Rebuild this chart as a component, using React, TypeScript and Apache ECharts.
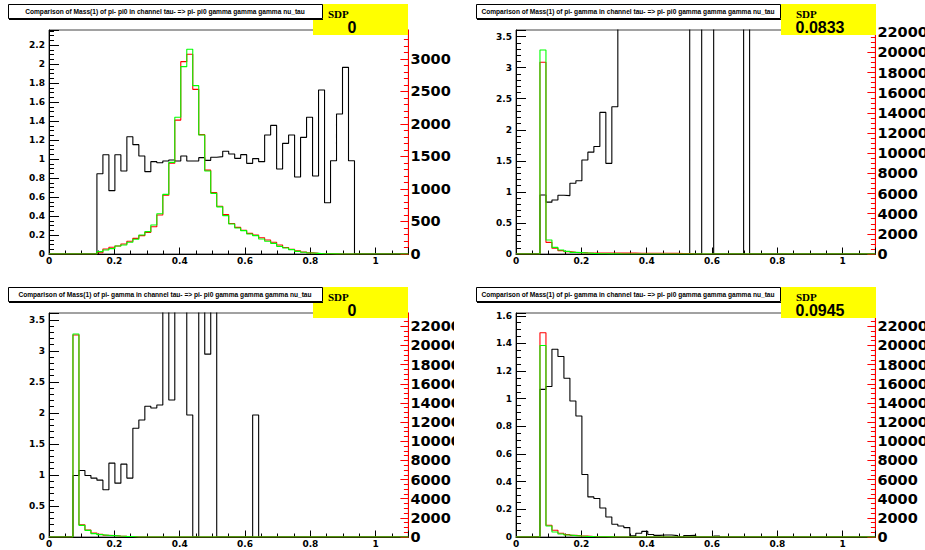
import React, { useEffect, useRef } from "react";
import * as echarts from "echarts";

// ---- binning (shared by all four pads) ----
const NBINS = 60;
const XMIN = 0;
const XMAX = 1.1;

// ---- titles / SDP values ----
const titlePiPi0 = "Comparison of Mass(1) of pi- pi0 in channel tau- => pi- pi0 gamma gamma gamma nu_tau";
const titlePiGamma = "Comparison of Mass(1) of pi- gamma in channel tau- => pi- pi0 gamma gamma gamma nu_tau";
const sdpValues = ["0", "0.0833", "0", "0.0945"];

// ---- pad 1 (top-left) ----
const p1BlackStart = 8;
const p1Black = [0.845, 1.045, 0.667, 1.045, 0.874, 1.235, 1.151, 1.032, 0.867, 0.972, 0.961, 0.979, 0.989, 0.979, 1.032, 0.979, 0.979, 1.014, 0.986, 1.018, 1.025, 1.081, 1.053, 1.007, 1.046, 0.954, 1.004, 0.972, 1.253, 1.354, 0.895, 1.165, 1.253, 0.81, 1.228, 1.439, 0.821, 1.726, 0.54, 0.982, 1.474, 1.965, 0.982];
const p1RedStart = 8;
const p1Red = [20, 77, 103, 123, 154, 195, 241, 282, 333, 420, 600, 903, 1395, 2060, 2959, 3072, 2533, 1836, 1290, 945, 735, 605, 470, 410, 365, 318, 290, 251, 215, 180, 138, 100, 72, 50, 30, 18, 10, 6, 3, 2];
const p1GreenStart = 8;
const p1Green = [36, 62, 82, 123, 138, 180, 226, 292, 344, 446, 620, 918, 1410, 2103, 2882, 3149, 2590, 1830, 1277, 933, 725, 590, 462, 400, 359, 308, 282, 231, 195, 164, 118, 92, 67, 41, 26, 15, 10, 5, 3, 2];
const p1LeftMax = 2.358;
const p1RightMax = 3446;

// ---- pad 2 (top-right) ----
const p2BlackStart = 4;
const p2Black = [0.95, 0.835, 0.87, 0.945, 0.94, 1.14, 1.18, 1.514, 1.64, 1.73, 2.28, 1.46, 2.37, 4.1, 4.6, 5.2, 4.4, 6.0, 4.9, 5.5, 7.1, 4.3, 6.6, 5.8, 8.2, 0, 0, 9.0, 6.3, 0, 0, 0, 0, 0, 12.0];
const p2RedStart = 4;
const p2Red = [19021, 1158, 563, 331, 232, 165, 140, 110, 100, 100, 95, 95, 90, 90, 85, 85, 80, 80, 75, 70, 70, 65, 60, 55, 50];
const p2GreenStart = 4;
const p2Green = [20245, 1390, 662, 397, 265, 165, 132, 100, 60, 40, 25, 15, 10, 5];
const p2LeftMax = 3.607;
const p2RightMax = 22222;

// ---- pad 3 (bottom-left) ----
const p3BlackStart = 4;
const p3Black = [0.991, 1.072, 0.991, 0.949, 0.916, 0.761, 1.19, 0.868, 1.174, 0.949, 1.752, 1.886, 2.106, 2.079, 2.127, 4.4, 2.208, 5.1, 3.9, 1.967, 0, 6.5, 2.947, 4.7, 0, 0, 0, 0, 0, 0, 1.967];
const p3RedStart = 4;
const p3Red = [21093, 1286, 730, 417, 280, 190, 150, 110, 80, 55];
const p3GreenStart = 4;
const p3Green = [21200, 1216, 695, 348, 243, 174, 139, 100, 70, 50];
const p3LeftMax = 3.61;
const p3RightMax = 23394;

// ---- pad 4 (bottom-right) ----
const p4BlackStart = 4;
const p4Black = [1.068, 1.088, 1.358, 1.305, 1.148, 0.984, 0.875, 0.452, 0.29, 0.278, 0.21, 0.145, 0.092, 0.08, 0.068, 0.008, 0.027, 0.041, 0.018, 0.012, 0.015, 0.015, 0.01, 0, 0.01, 0.012, 0, 0, 0, 0.006];
const p4RedStart = 4;
const p4Red = [21320, 1220, 698, 384, 244, 170, 120, 90, 60, 40, 25, 15];
const p4GreenStart = 4;
const p4Green = [20000, 1150, 523, 314, 209, 140, 100, 70, 45, 30, 20, 10];
const p4LeftMax = 1.62;
const p4RightMax = 23390;

// ---- layout (styles only) ----
const PADS = [
  { left: 0, top: 0, width: 454, title: titlePiPi0, sdp: sdpValues[0], black: [p1BlackStart, p1Black], red: [p1RedStart, p1Red], green: [p1GreenStart, p1Green], lmax: p1LeftMax, lint: 0.2, lminor: 4, rmax: p1RightMax, rint: 500, rminor: 5, tbox: [8, 4, 314, 14], ybox: [313, 4, 95, 31] },
  { left: 467, top: 0, width: 458, title: titlePiGamma, sdp: sdpValues[1], black: [p2BlackStart, p2Black], red: [p2RedStart, p2Red], green: [p2GreenStart, p2Green], lmax: p2LeftMax, lint: 0.5, lminor: 5, rmax: p2RightMax, rint: 2000, rminor: 4, tbox: [9, 4, 304, 14], ybox: [314, 4, 95, 31] },
  { left: 0, top: 283, width: 454, title: titlePiGamma, sdp: sdpValues[2], black: [p3BlackStart, p3Black], red: [p3RedStart, p3Red], green: [p3GreenStart, p3Green], lmax: p3LeftMax, lint: 0.5, lminor: 5, rmax: p3RightMax, rint: 2000, rminor: 4, tbox: [8, 4, 314, 14], ybox: [313, 4, 95, 31] },
  { left: 467, top: 283, width: 458, title: titlePiGamma, sdp: sdpValues[3], black: [p4BlackStart, p4Black], red: [p4RedStart, p4Red], green: [p4GreenStart, p4Green], lmax: p4LeftMax, lint: 0.2, lminor: 4, rmax: p4RightMax, rint: 2000, rminor: 4, tbox: [9, 4, 304, 14], ybox: [314, 4, 95, 31] },
];

function histPoints(start: number, vals: number[]): [number, number][] {
  const w = (XMAX - XMIN) / NBINS;
  const pts: [number, number][] = [];
  for (let k = 0; k < NBINS; k++) {
    const i = k - start;
    const v = i >= 0 && i < vals.length ? vals[i] : 0;
    pts.push([XMIN + k * w, v]);
  }
  pts.push([XMAX, 0]);
  return pts;
}

const fmt = (v: number) => String(parseFloat(Number(v).toFixed(6)));
const LABEL_FONT = "DejaVu Sans";

function makeOption(p: any) {
  const [tx, ty, tw, th] = p.tbox;
  const [yx, yy, yw, yh] = p.ybox;
  const lineSeries = (data: [number, number][], color: string, yIdx: number, z: number) => ({
    type: "line",
    xAxisIndex: 0,
    yAxisIndex: yIdx,
    step: "end",
    data,
    symbol: "none",
    showSymbol: false,
    silent: true,
    clip: true,
    z,
    lineStyle: { color, width: 1.1 },
  });
  return {
    animation: false,
    backgroundColor: "#ffffff",
    grid: {
      left: 49,
      top: 30,
      width: 359.4,
      height: 224,
      show: true,
      borderColor: "#444",
      borderWidth: 1,
      backgroundColor: "transparent",
      containLabel: false,
      outerBoundsMode: "none",
    },
    xAxis: {
      type: "value",
      min: XMIN,
      max: XMAX,
      interval: 0.2,
      axisLine: { show: true, onZero: false, lineStyle: { color: "#000", width: 1 } },
      axisTick: { show: true, inside: true, length: 6.5, lineStyle: { color: "#000", width: 1 } },
      minorTick: { show: true, splitNumber: 4, length: 3.5, lineStyle: { color: "#000", width: 1 } },
      splitLine: { show: false },
      axisLabel: { show: true, margin: 2, fontFamily: LABEL_FONT, fontWeight: "bold", fontSize: 9, color: "#000", showMaxLabel: false, formatter: fmt },
    },
    yAxis: [
      {
        type: "value",
        position: "left",
        min: 0,
        max: p.lmax,
        interval: p.lint,
        axisLine: { show: true, onZero: false, lineStyle: { color: "#000", width: 1 } },
        axisTick: { show: true, inside: true, length: 10, lineStyle: { color: "#000", width: 1 } },
        minorTick: { show: true, splitNumber: p.lminor, length: 5, lineStyle: { color: "#000", width: 1 } },
        splitLine: { show: false },
        axisLabel: { show: true, margin: 4, fontFamily: LABEL_FONT, fontWeight: "bold", fontSize: 9, color: "#000", showMaxLabel: false, formatter: fmt },
      },
      {
        type: "value",
        position: "right",
        min: 0,
        max: p.rmax,
        interval: p.rint,
        axisLine: { show: true, onZero: false, lineStyle: { color: "#ff0000", width: 1 } },
        axisTick: { show: true, inside: true, length: 8, lineStyle: { color: "#ff0000", width: 1 } },
        minorTick: { show: true, splitNumber: p.rminor, length: 4.5, lineStyle: { color: "#ff0000", width: 1 } },
        splitLine: { show: false },
        axisLabel: { show: true, margin: 2, fontFamily: LABEL_FONT, fontWeight: "bold", fontSize: 14.5, color: "#000", showMaxLabel: false, formatter: fmt },
      },
    ],
    series: [
      lineSeries(histPoints(p.black[0], p.black[1]), "#000000", 0, 2),
      lineSeries(histPoints(p.red[0], p.red[1]), "#ff0000", 1, 3),
      lineSeries(histPoints(p.green[0], p.green[1]), "#00ff00", 1, 4),
    ],
    graphic: [
      { type: "rect", z: 100, shape: { x: yx, y: yy, width: yw, height: yh }, style: { fill: "#ffff00" } },
      { type: "rect", z: 101, shape: { x: tx + 0.5, y: ty + 0.5, width: tw, height: th }, style: { fill: "#ffffff", stroke: "#000", lineWidth: 1 } },
      { type: "line", z: 101, shape: { x1: tx + 1, y1: ty + th + 1.5, x2: tx + tw + 1, y2: ty + th + 1.5 }, style: { stroke: "#000", lineWidth: 1 } },
      { type: "text", z: 102, x: tx + tw / 2, y: ty + th / 2 + 0.5, style: { text: p.title, fill: "#000", font: 'bold 6.6px "Liberation Sans"', align: "center", verticalAlign: "middle" } },
      { type: "text", z: 102, x: yx + 15, y: yy + 9.5, style: { text: "SDP", fill: "#000", font: 'bold 11px "Liberation Serif"', align: "left", verticalAlign: "middle" } },
      { type: "text", z: 102, x: yx + 39, y: yy + 23.5, style: { text: p.sdp, fill: "#000", font: 'bold 16px "Liberation Sans"', align: "center", verticalAlign: "middle" } },
    ],
  };
}

export default function App() {
  const refs = useRef<(HTMLDivElement | null)[]>([]);
  useEffect(() => {
    const charts = PADS.map((p, i) => {
      const el = refs.current[i];
      if (!el) return null;
      const c = echarts.init(el, undefined, { renderer: "svg" });
      c.setOption(makeOption(p) as any);
      return c;
    });
    return () => {
      charts.forEach((c) => c && c.dispose());
    };
  }, []);
  return (
    <div style={{ position: "fixed", left: 0, top: 0, width: 925, height: 550, background: "#fff", overflow: "hidden" }}>
      {PADS.map((p, i) => (
        <div
          key={i}
          ref={(el) => {
            refs.current[i] = el;
          }}
          style={{ position: "absolute", left: p.left, top: p.top, width: p.width, height: 267, overflow: "hidden" }}
        />
      ))}
    </div>
  );
}
